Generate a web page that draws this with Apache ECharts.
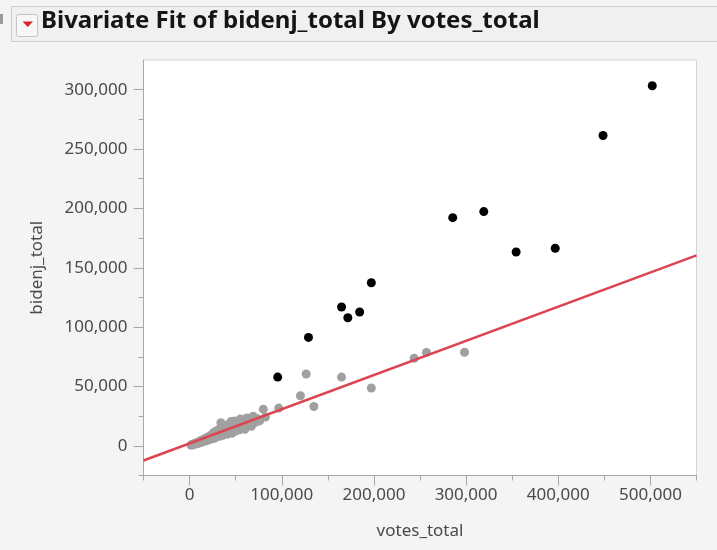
<!DOCTYPE html>
<html>
<head>
<meta charset="utf-8">
<script src="https://cdn.jsdelivr.net/npm/echarts@6/dist/echarts.min.js"></script>
<style>
  html, body { margin: 0; padding: 0; background: #f4f4f4; }
  #main { width: 717px; height: 550px; }
</style>
</head>
<body>
<div id="main"></div>
<script>
// 数据：灰色点（votes_total, bidenj_total）
var grayPoints = [
  [1500, 600], [2500, 1100], [3200, 700], [4000, 1500], [5000, 1200], [6000, 2200],
  [7000, 1600], [8000, 2800], [9000, 2000], [10000, 3500], [11000, 2600], [12000, 4200],
  [13000, 3000], [14000, 5200], [15000, 3600], [16000, 4600], [17000, 6400], [18000, 4200],
  [19000, 5600], [20000, 7500], [21000, 5000], [22000, 6400], [23000, 9000], [24000, 5800],
  [25000, 7200], [26000, 11000], [27000, 6400], [28000, 8400], [29000, 12500], [30000, 7600],
  [31000, 9800], [32000, 14000], [33000, 8200], [34000, 19500], [35000, 11500], [36000, 8800],
  [37000, 16000], [38000, 10500], [40000, 13000], [41000, 9800], [42000, 18000], [43000, 12000],
  [45000, 20500], [46000, 10500], [47000, 14500], [49000, 21000], [50000, 12500], [52000, 16500],
  [54000, 13500], [55000, 22500], [57000, 15500], [59000, 19000], [60000, 14000], [62000, 23500],
  [63000, 17500], [65000, 20500], [67000, 16500], [69000, 25000], [71000, 19500], [73000, 23000],
  [76000, 21000], [80000, 30900], [82300, 24200],
  [96700, 31800], [120300, 42200], [126500, 60500], [134800, 33100], [164900, 57900],
  [197200, 48700], [243700, 73800], [257000, 78700], [298300, 78800]
];
// 黑色点
var blackPoints = [
  [95600, 57900], [129000, 91300], [164900, 116900], [171700, 107900], [184500, 112700],
  [197200, 137400], [285500, 192200], [319200, 197300], [354300, 163300], [396700, 166400],
  [448600, 261400], [502000, 303300]
];
// 拟合直线两端
var fitLine = [[-50000, -12400], [550000, 160400]];
// 刻度
var xMajorTicks = [0, 100000, 200000, 300000, 400000, 500000];
var xMinorTicks = [-50000, 50000, 150000, 250000, 350000, 450000, 550000];
var yMajorTicks = [0, 50000, 100000, 150000, 200000, 250000, 300000];
var yMinorTicks = [-25000, 25000, 75000, 125000, 175000, 225000, 275000];

var myChart = echarts.init(document.getElementById('main'));

var axisColor = '#a8a8a8';
var labelColor = '#4a4a4a';
var fmt = function (v) { return v.toLocaleString('en-US'); };

myChart.setOption({
  backgroundColor: '#f4f4f4',
  animation: false,
  graphic: [
    { type: 'rect', shape: { x: 0, y: 14, width: 3, height: 10 }, style: { fill: '#9a9a9a' } },
    { type: 'rect', shape: { x: 11.5, y: 6.5, width: 720, height: 35 }, style: { fill: '#f0f0f0', stroke: '#cfcfcf', lineWidth: 1 } },
    { type: 'rect', shape: { x: 16.5, y: 14.5, width: 21, height: 22, r: 2 }, style: { fill: '#f7f7f7', stroke: '#c4c4c4', lineWidth: 1 } },
    { type: 'polygon', shape: { points: [[22.5, 21.5], [33, 21.5], [27.75, 27]] }, style: { fill: '#d9232d' } },
    {
      type: 'text', left: 41, top: 9,
      style: {
        text: 'Bivariate Fit of bidenj_total By votes_total',
        fill: '#151515', font: 'bold 24px "Noto Sans", sans-serif'
      }
    }
  ],
  grid: {
    left: 143.5, top: 60, right: 20.5, bottom: 74.5,
    show: true, backgroundColor: '#ffffff', borderColor: '#d4d4d4', borderWidth: 1
  },
  xAxis: [
    {
      type: 'value', min: -50000, max: 550000,
      name: 'votes_total', nameLocation: 'middle', nameGap: 47,
      nameTextStyle: { color: labelColor, fontSize: 17, fontFamily: 'Noto Sans' },
      axisLine: { show: true, onZero: false, lineStyle: { color: axisColor } },
      axisTick: { show: true, length: 10, customValues: xMajorTicks, lineStyle: { color: axisColor } },
      axisLabel: { customValues: xMajorTicks, margin: 11, color: labelColor, fontSize: 17, fontFamily: 'Noto Sans', formatter: fmt },
      splitLine: { show: false }
    },
    {
      type: 'value', min: -50000, max: 550000, position: 'bottom',
      axisLine: { show: false, onZero: false },
      axisTick: { show: true, length: 5, customValues: xMinorTicks, lineStyle: { color: axisColor } },
      axisLabel: { show: false },
      splitLine: { show: false }
    }
  ],
  yAxis: [
    {
      type: 'value', min: -25000, max: 325000,
      name: 'bidenj_total', nameLocation: 'middle', nameGap: 98,
      nameTextStyle: { color: labelColor, fontSize: 17, fontFamily: 'Noto Sans' },
      axisLine: { show: true, onZero: false, lineStyle: { color: axisColor } },
      axisTick: { show: true, length: 10, customValues: yMajorTicks, lineStyle: { color: axisColor } },
      axisLabel: { customValues: yMajorTicks, margin: 16, color: labelColor, fontSize: 17, fontFamily: 'Noto Sans', formatter: fmt },
      splitLine: { show: false }
    },
    {
      type: 'value', min: -25000, max: 325000, position: 'left',
      axisLine: { show: false, onZero: false },
      axisTick: { show: true, length: 5, customValues: yMinorTicks, lineStyle: { color: axisColor } },
      axisLabel: { show: false },
      splitLine: { show: false }
    }
  ],
  series: [
    {
      type: 'scatter', data: grayPoints, symbolSize: 9,
      itemStyle: { color: '#a0a0a0', opacity: 1 }
    },
    {
      type: 'scatter', data: blackPoints, symbolSize: 9,
      itemStyle: { color: '#000000', opacity: 1 }
    },
    {
      type: 'line', data: fitLine, showSymbol: false, symbol: 'none',
      lineStyle: { color: '#dd4452', width: 2.5 }
    }
  ]
});
</script>
</body>
</html>
